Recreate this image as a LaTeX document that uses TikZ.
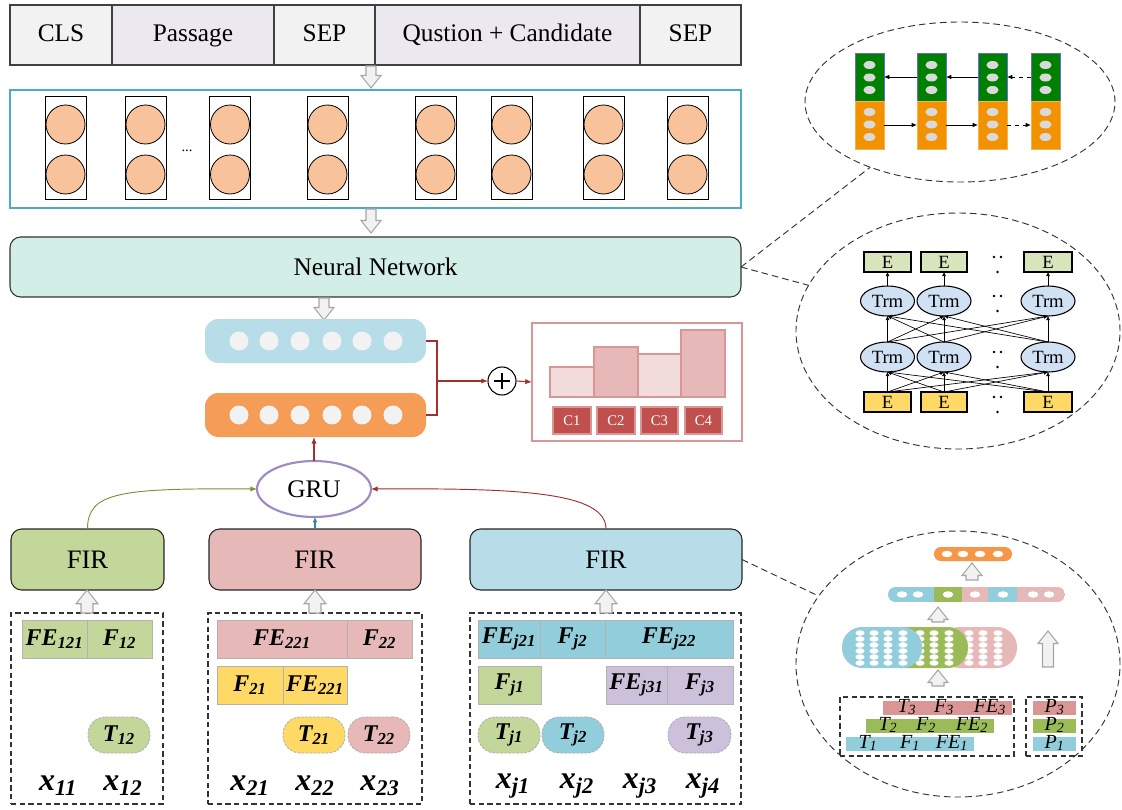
\documentclass[tikz,border=0pt]{standalone}
\usepackage{fontspec}
\setmainfont{Liberation Serif}
\usetikzlibrary{arrows.meta,shapes.geometric}

\definecolor{tokgray}{HTML}{F2F2F2}
\definecolor{toklav}{HTML}{EBE8F0}
\definecolor{peach}{HTML}{F8C39B}
\definecolor{framecol}{HTML}{4BACC6}
\definecolor{nnfill}{HTML}{D3EDE7}
\definecolor{barblue}{HTML}{B7DDE8}
\definecolor{barorange}{HTML}{F59D56}
\definecolor{darkred}{HTML}{A0322D}
\definecolor{histline}{HTML}{D99694}
\definecolor{histlight}{HTML}{F2DCDB}
\definecolor{histmid}{HTML}{E6B8B7}
\definecolor{cred}{HTML}{C0504D}
\definecolor{grupurple}{HTML}{9F8AC4}
\definecolor{lgreen}{HTML}{C4D79B}
\definecolor{lpink}{HTML}{E6B8B7}
\definecolor{lyellow}{HTML}{FFD966}
\definecolor{lblue}{HTML}{92CDDC}
\definecolor{lpurple}{HTML}{CCC0DA}
\definecolor{firblue}{HTML}{B7DDE8}
\definecolor{curvegreen}{HTML}{77933C}
\definecolor{curveteal}{HTML}{31859C}
\definecolor{bigreen}{HTML}{008000}
\definecolor{biorange}{HTML}{F39200}
\definecolor{ovalgray}{HTML}{D9D9D9}
\definecolor{etop}{HTML}{D8E4BC}
\definecolor{trmblue}{HTML}{D0E1F4}
\definecolor{sblue}{HTML}{92CDDC}
\definecolor{sgreen}{HTML}{9BBB59}
\definecolor{spink}{HTML}{E6B8B7}
\definecolor{sred}{HTML}{DA9694}
\definecolor{sorange}{HTML}{F79646}
\definecolor{arrowgray}{HTML}{A6A6A6}

% box node given by its corners: name, style, x1, y1, x2, y2, text
\newcommand\bnode[7]{\node[#2,minimum width={(#5-#3)*0.75pt},minimum height={(#6-#4)*0.75pt}] (#1) at ({(#3+#5)/2},{(#4+#6)/2}) {#7};}
% block arrow: x, tail y, tip y, shaft half width, head half width
\newcommand\hollowarr[5]{%
  \pgfmathsetmacro\hbase{#3-sign(#3-#2)*1.25*#5}%
  \filldraw[harrow] (#1-#4,#2) -- (#1-#4,\hbase) -- (#1-#5,\hbase) -- (#1,#3) -- (#1+#5,\hbase) -- (#1+#4,\hbase) -- (#1+#4,#2) -- cycle;}

\begin{document}
\begin{tikzpicture}[x=0.75pt,y=-0.75pt,
  base/.style={inner sep=0pt,outer sep=0pt},
  tok/.style={base,draw=black!75,line width=0.9pt,font=\fontsize{19}{22}\selectfont,text height=13pt,text depth=4pt},
  harrow/.style={fill=tokgray,draw=arrowgray,line width=0.8pt},
  redarrow/.style={darkred,line width=0.8pt,-{Latex[length=5pt,width=4pt]}},
  fir/.style={base,draw=black!85,line width=0.8pt,rounded corners=8pt,font=\fontsize{20}{22}\selectfont},
  dbox/.style={base,draw=black!80,line width=0.8pt,dash pattern=on 4pt off 2.5pt},
  lab/.style={base,draw=gray!60,line width=0.6pt,font=\fontsize{18}{20}\selectfont\bfseries\itshape},
  pill/.style={base,draw=gray!65,line width=0.6pt,dash pattern=on 2pt off 1pt,rounded corners=13pt,font=\fontsize{18}{20}\selectfont\bfseries\itshape},
  xlab/.style={base,font=\fontsize{24}{26}\selectfont\bfseries\itshape},
  bigell/.style={ellipse,base,draw=black!80,line width=0.7pt,dash pattern=on 5pt off 3pt},
  link/.style={draw=black!80,line width=0.7pt,dash pattern=on 5pt off 3pt},
  bar/.style={base,draw=histline,line width=1.3pt},
  cbox/.style={base,fill=cred,draw=histline,line width=1pt,text=white,font=\fontsize{11}{12}\selectfont},
  gcell/.style={base,fill=bigreen,draw=blue!60,line width=0.5pt},
  ocell/.style={base,fill=biorange,draw=biorange!70,line width=0.5pt},
  barrow/.style={black,line width=0.7pt,-{Latex[length=4pt,width=3.5pt]}},
  ebox/.style={base,draw=black,line width=1.5pt,font=\fontsize{14}{16}\selectfont},
  trm/.style={ellipse,base,draw=black,line width=0.8pt,fill=trmblue,minimum width=54*0.75pt,minimum height=30*0.75pt,font=\fontsize{14}{16}\selectfont},
  tarrow/.style={black,line width=0.5pt,-{Latex[length=3pt,width=3pt]}},
  stxt/.style={base,font=\fontsize{15}{16}\selectfont\itshape},
]
\fill[white] (0,0) rectangle (1122,810);
\useasboundingbox (0,0) rectangle (1122,810);

% ---------- input sequence ----------
\bnode{cls}{tok,fill=tokgray}{10}{5}{112}{65}{CLS}
\bnode{psg}{tok,fill=toklav}{112}{5}{274}{65}{Passage}
\bnode{sepa}{tok,fill=tokgray}{274}{5}{375}{65}{SEP}
\bnode{qc}{tok,fill=toklav}{375}{5}{640}{65}{Qustion + Candidate}
\bnode{sepb}{tok,fill=tokgray}{640}{5}{741}{65}{SEP}
\hollowarr{371}{66}{88}{5}{10}

% ---------- embeddings ----------
\bnode{emb}{base,draw=framecol,line width=0.8pt}{10}{90}{741}{208}{}
\foreach \cx [count=\i] in {65.5,145.5,230,327.5,435.5,511.5,603.5,687.5} {
  \node[base,draw=black,line width=0.7pt,minimum width=41*0.75pt,minimum height=103*0.75pt] (col\i) at (\cx,147.5) {};
  \node[circle,base,draw=black,line width=0.6pt,fill=peach,minimum size=39*0.75pt] (ca\i) at (\cx,124.5) {};
  \node[circle,base,draw=black,line width=0.6pt,fill=peach,minimum size=39*0.75pt] (cb\i) at (\cx,174.5) {};
}
\node[base,font=\fontsize{11}{11}\selectfont] (ell) at (187,151) {...};
\hollowarr{371}{209}{233}{5}{10}

% ---------- encoder ----------
\bnode{nn}{base,draw=black!80,line width=0.8pt,fill=nnfill,rounded corners=8pt,font=\fontsize{19}{22}\selectfont}{10}{237}{741}{297}{Neural Network}
\hollowarr{324}{298}{320}{5}{10}

% ---------- two representations ----------
\bnode{hb}{base,fill=barblue,rounded corners=10pt}{205}{319}{426}{363}{}
\bnode{hbo}{base,fill=barorange,rounded corners=10pt}{205}{393}{426}{437}{}
\foreach \cx in {239,269,300,332,362,393} {
  \fill[tokgray] (\cx,341) circle (7.1pt);
  \fill[tokgray] (\cx,415) circle (7.1pt);
}
\coordinate (jn) at (437,381);
\draw[darkred,line width=0.8pt] (hb.east) -| (jn);
\draw[darkred,line width=0.8pt] (hbo.east) -| (jn);
\node[circle,base,draw=black,line width=0.8pt,fill=white,minimum size=28*0.75pt] (plus) at (502,381) {};
\draw[line width=0.9pt] ([xshift=-6pt]plus.center) -- ([xshift=6pt]plus.center);
\draw[line width=0.9pt] ([yshift=-6pt]plus.center) -- ([yshift=6pt]plus.center);
\draw[redarrow] (jn) -- (plus.west);

% ---------- answer scores ----------
\bnode{hist}{base,draw=histline,line width=1.5pt,fill=white}{532}{323}{742}{441}{}
\draw[redarrow] (plus.east) -- (hist.west);
\bnode{b1}{bar,fill=histlight}{550}{367}{594}{397}{}
\bnode{b2}{bar,fill=histmid}{594}{347}{638}{397}{}
\bnode{b3}{bar,fill=histlight}{638}{354}{681}{397}{}
\bnode{b4}{bar,fill=histmid}{681}{330}{725}{397}{}
\bnode{c1}{cbox}{553}{407}{591}{434}{C1}
\bnode{c2}{cbox}{597}{407}{635}{434}{C2}
\bnode{c3}{cbox}{641}{407}{678}{434}{C3}
\bnode{c4}{cbox}{685}{407}{722}{434}{C4}

% ---------- GRU ----------
\node[ellipse,base,draw=grupurple,line width=1.6pt,fill=white,minimum width=114*0.75pt,minimum height=56*0.75pt,font=\fontsize{19}{22}\selectfont] (gru) at (314,489) {GRU};
\draw[redarrow] (gru.north) -- (gru.north |- hbo.south);

\bnode{fir1}{fir,fill=lgreen}{11}{529}{164}{590}{FIR}
\bnode{fir2}{fir,fill=lpink}{209}{529}{421}{590}{FIR}
\bnode{fir3}{fir,fill=firblue}{470}{529}{742}{590}{FIR}
\draw[curvegreen,line width=0.7pt,-{Latex[length=5pt,width=4pt]}] (fir1.north) .. controls (87.5,492) and (120,488) .. (gru.west);
\draw[curveteal,line width=0.8pt,-{Latex[length=4pt,width=3.5pt]}] (fir2.north) -- (fir2.north |- gru.south);
\draw[darkred,line width=0.7pt,-{Latex[length=5pt,width=4pt]}] (fir3.north) .. controls (606,492) and (520,488) .. (gru.east);

% ---------- feature groups ----------
\bnode{g1}{dbox}{11}{613}{163}{804}{}
\bnode{g2}{dbox}{208}{613}{422}{804}{}
\bnode{g3}{dbox}{470}{613}{741}{804}{}
\hollowarr{87}{613}{590}{6}{11}
\hollowarr{315}{613}{590}{6}{11}
\hollowarr{606}{613}{590}{6}{11}

\bnode{fe121}{lab,fill=lgreen}{22}{620}{87}{658}{FE\textsubscript{121}}
\bnode{f12}{lab,fill=lgreen}{87}{620}{152}{658}{F\textsubscript{12}}
\bnode{t12}{pill,fill=lgreen}{88}{717}{150}{753}{T\textsubscript{12}}
\node[xlab] (x11) at (58,786) {x\textsubscript{11}};
\node[xlab] (x12) at (123,786) {x\textsubscript{12}};

\bnode{fe221a}{lab,fill=lpink}{217}{620}{347}{658}{FE\textsubscript{221}}
\bnode{f22}{lab,fill=lpink}{347}{620}{412}{658}{F\textsubscript{22}}
\bnode{f21}{lab,fill=lyellow}{217}{666}{283}{704}{F\textsubscript{21}}
\bnode{fe221b}{lab,fill=lyellow}{283}{666}{347}{704}{FE\textsubscript{221}}
\bnode{t21}{pill,fill=lyellow}{283}{717}{345}{753}{T\textsubscript{21}}
\bnode{t22}{pill,fill=lpink}{348}{717}{410}{753}{T\textsubscript{22}}
\node[xlab] (x21) at (250,786) {x\textsubscript{21}};
\node[xlab] (x22) at (315,786) {x\textsubscript{22}};
\node[xlab] (x23) at (380,786) {x\textsubscript{23}};

\bnode{fej21}{lab,fill=lblue}{478}{620}{540}{658}{FE\textsubscript{j21}}
\bnode{fj2}{lab,fill=lblue}{540}{620}{605}{658}{F\textsubscript{j2}}
\bnode{fej22}{lab,fill=lblue}{605}{620}{733}{658}{FE\textsubscript{j22}}
\bnode{fj1}{lab,fill=lgreen}{478}{666}{541}{704}{F\textsubscript{j1}}
\bnode{fej31}{lab,fill=lpurple}{606}{666}{667}{704}{FE\textsubscript{j31}}
\bnode{fj3}{lab,fill=lpurple}{667}{666}{733}{704}{F\textsubscript{j3}}
\bnode{tj1}{pill,fill=lgreen}{478}{717}{540}{753}{T\textsubscript{j1}}
\bnode{tj2}{pill,fill=lblue}{542}{717}{604}{753}{T\textsubscript{j2}}
\bnode{tj3}{pill,fill=lpurple}{668}{717}{731}{753}{T\textsubscript{j3}}
\node[xlab] (xj1) at (513,786) {x\textsubscript{j1}};
\node[xlab] (xj2) at (577,786) {x\textsubscript{j2}};
\node[xlab] (xj3) at (640,786) {x\textsubscript{j3}};
\node[xlab] (xj4) at (703,786) {x\textsubscript{j4}};

% ---------- detail: bidirectional layer ----------
\node[bigell,minimum width=310*0.75pt,minimum height=160*0.75pt] (ellA) at (960,102) {};
\draw[link] (nn.east) -- (ellA.216.5);
\foreach \xl/\xr [count=\i] in {855/884,917/946,978/1007,1031/1060} {
  \bnode{gc\i}{gcell}{\xl}{53}{\xr}{101}{}
  \bnode{oc\i}{ocell}{\xl}{101}{\xr}{149}{}
  \foreach \yy in {65,77.5,90,112,124.5,137}
    \fill[ovalgray] ({(\xl+\xr)/2},\yy) ellipse [x radius=4.6pt,y radius=3pt];
}
\draw[barrow] (gc2.west) -- (gc1.east);
\draw[barrow] (gc3.west) -- (gc2.east);
\draw[barrow,dashed] (gc4.west) -- (gc3.east);
\draw[barrow] (oc1.east) -- (oc2.west);
\draw[barrow] (oc2.east) -- (oc3.west);
\draw[barrow,dashed] (oc3.east) -- (oc4.west);

% ---------- detail: transformer stack ----------
\node[bigell,minimum width=324*0.75pt,minimum height=236*0.75pt] (ellB) at (958,331) {};
\draw[link] (nn.east) -- (ellB.163.8);
\bnode{et1}{ebox,fill=etop}{864}{252}{911}{272}{E}
\bnode{et2}{ebox,fill=etop}{921}{252}{967}{272}{E}
\bnode{et3}{ebox,fill=etop}{1024}{252}{1072}{272}{E}
\bnode{eb1}{ebox,fill=lyellow}{864}{392}{911}{412}{E}
\bnode{eb2}{ebox,fill=lyellow}{921}{392}{967}{412}{E}
\bnode{eb3}{ebox,fill=lyellow}{1024}{392}{1072}{412}{E}
\foreach \cx [count=\i] in {887.5,944,1048} {
  \node[trm] (tb\i) at (\cx,301) {Trm};
  \node[trm] (ta\i) at (\cx,357) {Trm};
}
\foreach \i in {1,2,3} {
  \foreach \j in {1,2,3} {
    \draw[tarrow] (eb\i.north) -- (ta\j.south);
    \draw[tarrow] (ta\i.north) -- (tb\j.south);
  }
  \draw[tarrow] (tb\i.north) -- (et\i.south);
}
\foreach \yy in {257,296,352,397} {
  \fill (994,\yy) circle (1.1pt);
  \fill (1001,\yy) circle (1.1pt);
  \fill (997.5,\yy+15) circle (1.1pt);
}

% ---------- detail: feature fusion ----------
\node[bigell,minimum width=324*0.75pt,minimum height=266*0.75pt] (ellC) at (958,664) {};
\draw[link] (fir3.east) -- (ellC.154.3);

\bnode{op}{base,fill=sorange,rounded corners=5.2pt}{934}{547}{1012}{561}{}
\foreach \cx in {947,963,980,998}
  \fill[white] (\cx,554) ellipse [x radius=4pt,y radius=2.4pt];
\hollowarr{972}{580}{563}{6}{10}

\bnode{ms}{base}{888}{587}{1065}{602}{}
\begin{scope}
  \clip[rounded corners=5.6pt] (888,587) rectangle (1065,602);
  \fill[sblue] (888,587) rectangle (934,602);
  \fill[sgreen] (934,587) rectangle (962,602);
  \fill[spink] (962,587) rectangle (988,602);
  \fill[sblue] (988,587) rectangle (1017,602);
  \fill[spink] (1017,587) rectangle (1065,602);
\end{scope}
\foreach \cx in {902,918,948,975,1003,1033,1049}
  \fill[white] (\cx,594.5) ellipse [x radius=4pt,y radius=2.4pt];
\hollowarr{938}{622}{607}{6}{10}

\bnode{pkp}{base,fill=spink,rounded corners=15pt}{940}{627}{1017}{668}{}
\foreach \cx in {969,983,998} \foreach \yy in {633,639,645,651,657,663}
  \fill[white] (\cx,\yy) ellipse [x radius=3.4pt,y radius=2.1pt];
\bnode{gnp}{base,fill=sgreen,rounded corners=15pt}{880}{627}{968}{668}{}
\foreach \cx in {920,934,949} \foreach \yy in {633,639,645,651,657,663}
  \fill[white] (\cx,\yy) ellipse [x radius=3.4pt,y radius=2.1pt];
\bnode{blp}{base,fill=sblue,rounded corners=15pt}{842}{627}{922}{668}{}
\foreach \cx in {860,874,888,903} \foreach \yy in {633,639,645,651,657,663}
  \fill[white] (\cx,\yy) ellipse [x radius=3.4pt,y radius=2.1pt];

\hollowarr{938}{686}{670}{6}{10}
\hollowarr{1048}{667}{631}{5.5}{10}

\bnode{lbox}{dbox}{840}{697}{1014}{756}{}
\bnode{rbox}{dbox}{1026}{697}{1082}{756}{}
\bnode{s3}{base,fill=sred}{883}{701}{1012}{715}{}
\bnode{s2}{base,fill=sgreen}{866}{719}{994}{733}{}
\bnode{s1}{base,fill=sblue}{846}{737}{974}{751}{}
\bnode{p3}{base,fill=sred}{1033}{701}{1076}{715}{}
\bnode{p2}{base,fill=sgreen}{1033}{719}{1076}{733}{}
\bnode{p1}{base,fill=sblue}{1033}{737}{1076}{751}{}
\node[stxt] (lt3) at (907,707) {T\textsubscript{3}};
\node[stxt] (lf3) at (944,707) {F\textsubscript{3}};
\node[stxt] (lfe3) at (990,707) {FE\textsubscript{3}};
\node[stxt] (lt2) at (888,725) {T\textsubscript{2}};
\node[stxt] (lf2) at (926,725) {F\textsubscript{2}};
\node[stxt] (lfe2) at (972,725) {FE\textsubscript{2}};
\node[stxt] (lt1) at (868,743) {T\textsubscript{1}};
\node[stxt] (lf1) at (910,743) {F\textsubscript{1}};
\node[stxt] (lfe1) at (952,743) {FE\textsubscript{1}};
\node[stxt] (lp3) at (1054.5,707) {P\textsubscript{3}};
\node[stxt] (lp2) at (1054.5,725) {P\textsubscript{2}};
\node[stxt] (lp1) at (1054.5,743) {P\textsubscript{1}};
\end{tikzpicture}
\end{document}
